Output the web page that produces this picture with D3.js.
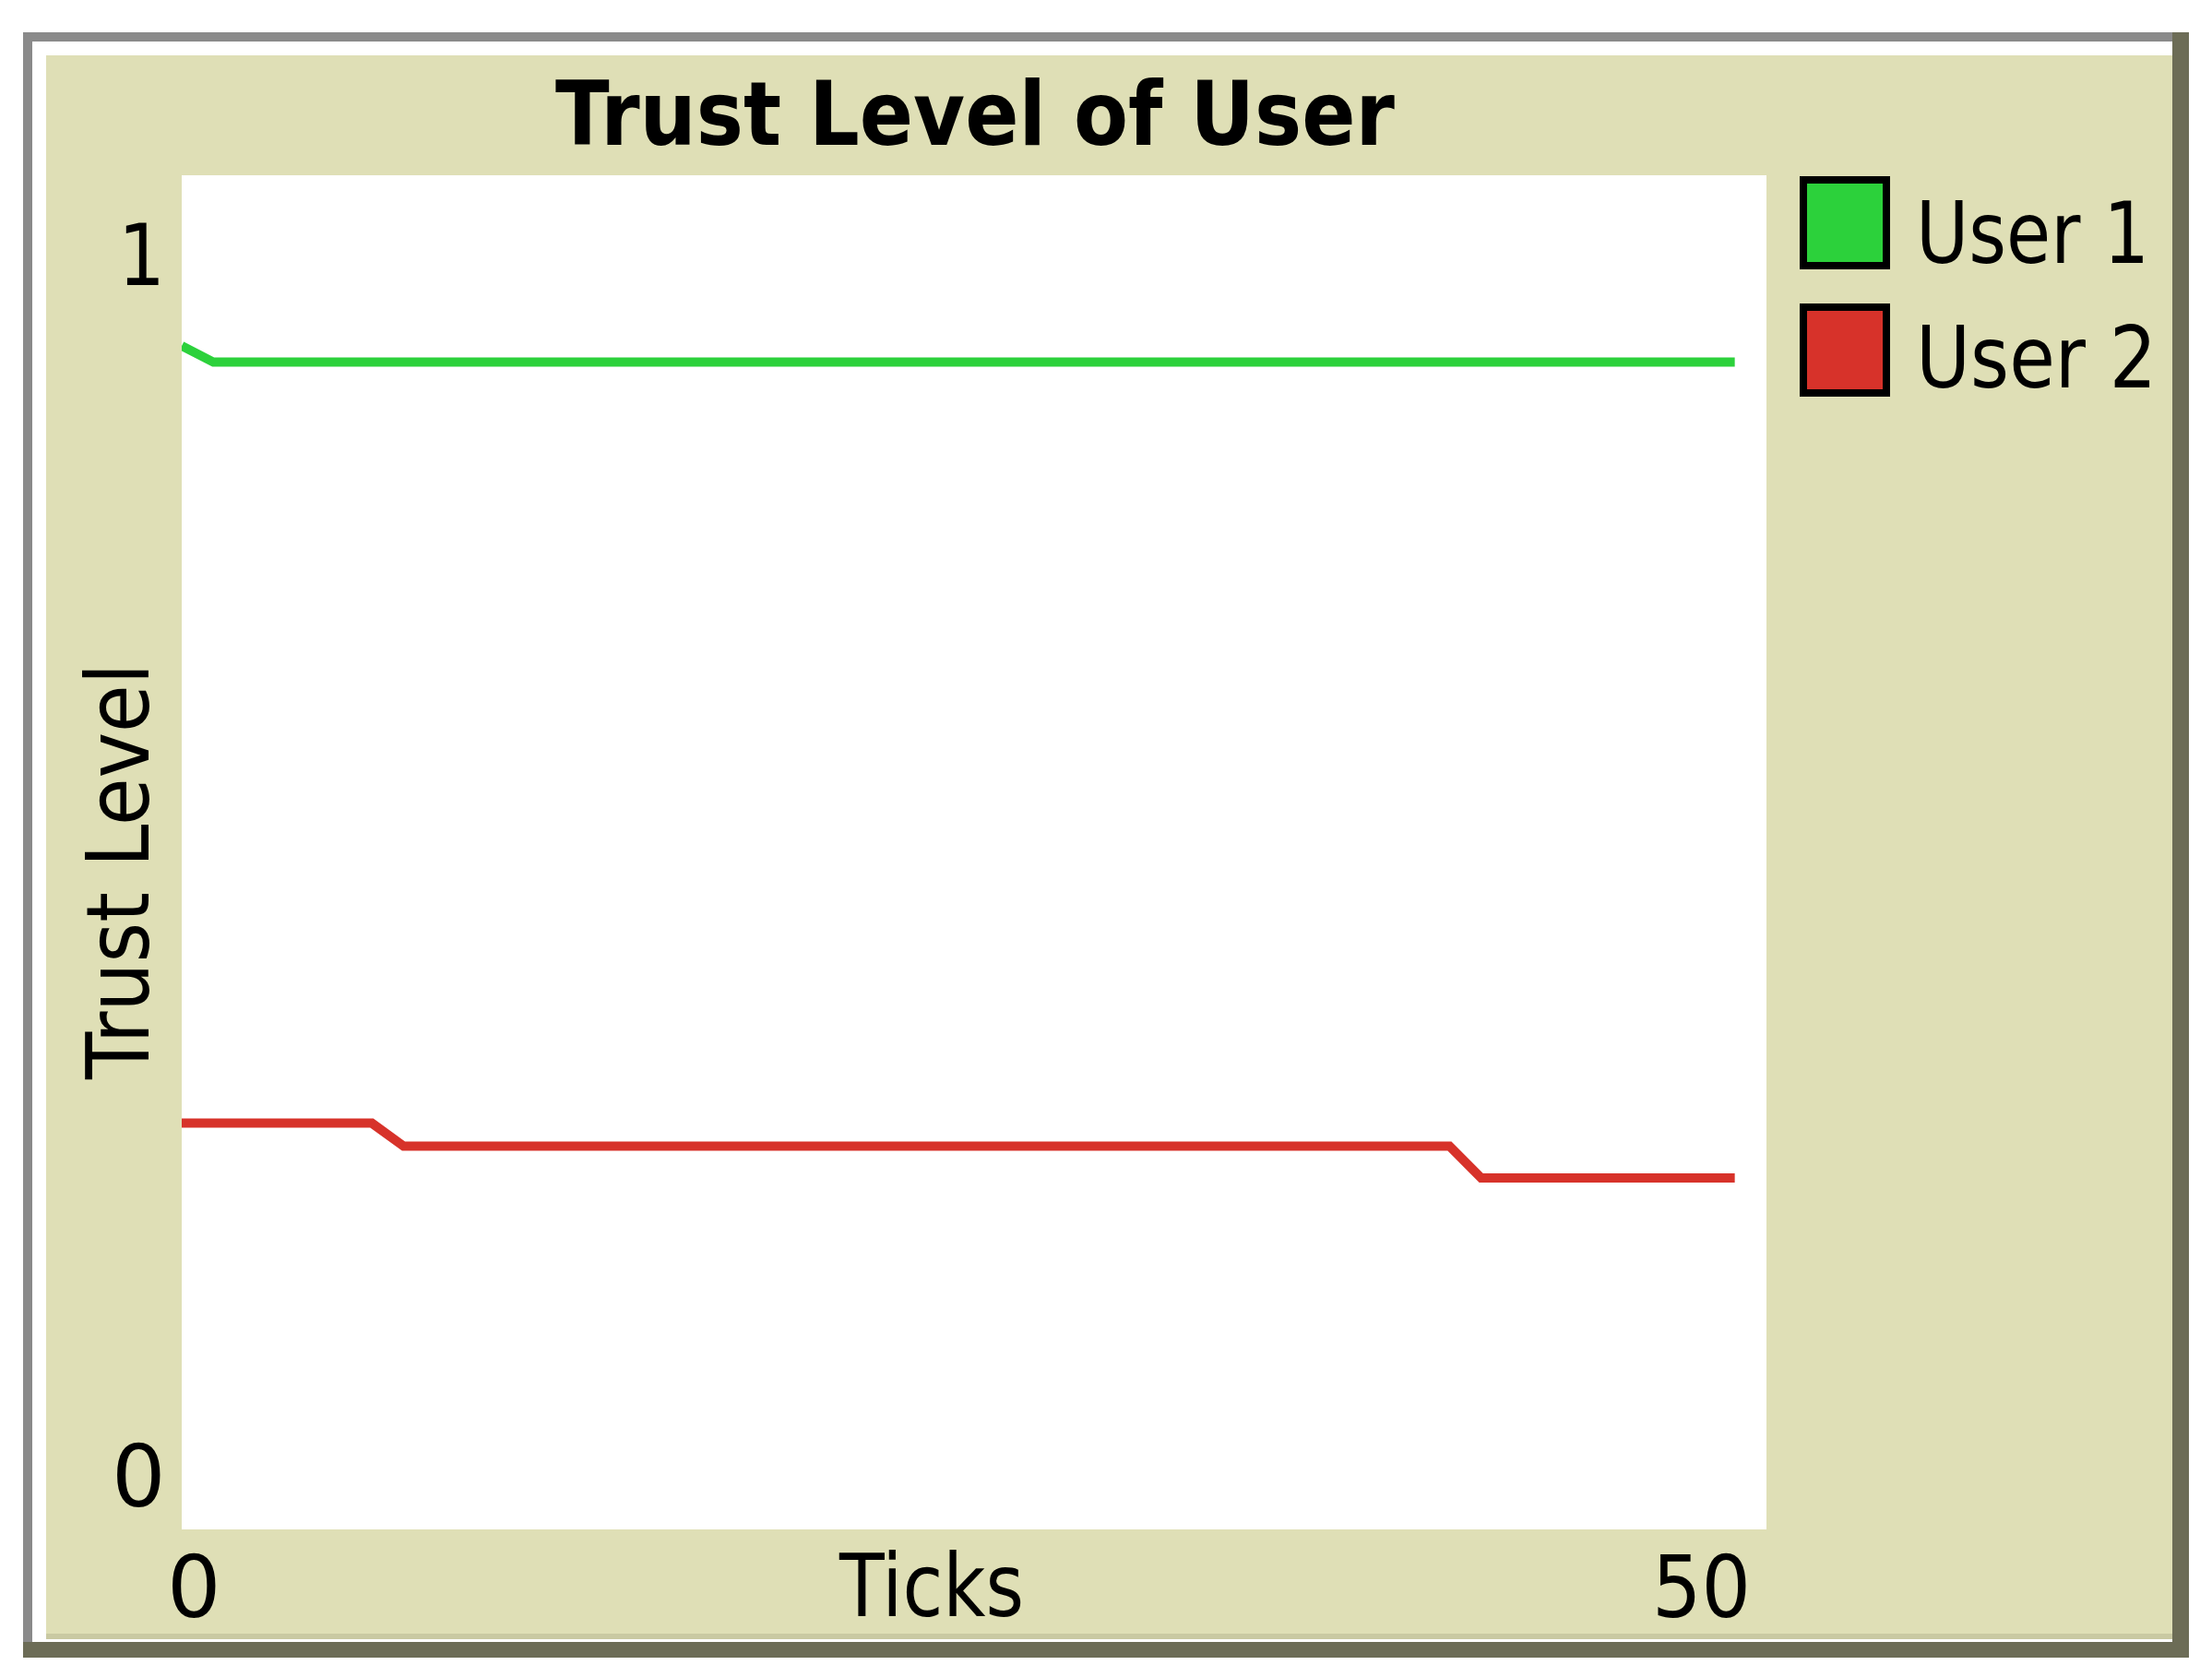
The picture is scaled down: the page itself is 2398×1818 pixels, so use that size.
<!DOCTYPE html>
<html>
<head>
<meta charset="utf-8">
<script src="https://cdn.jsdelivr.net/npm/d3@7"></script>
<style>
  html, body { margin: 0; padding: 0; background: #ffffff; }
  svg { display: block; }
  text { font-family: "DejaVu Sans", Tahoma, Verdana, sans-serif; fill: #000; }
</style>
</head>
<body>
<script>
// ---------- data ----------
const chartTitle = "Trust Level of User";
const xAxisTitle = "Ticks";
const yAxisTitle = "Trust Level";
const xDomain = [0, 50];
const yDomain = [0, 1];
const xTickLabels = ["0", "50"];
const yTickLabels = ["0", "1"];
const seriesNames = ["User 1", "User 2"];
const seriesColors = ["#2cd13b", "#d7322a"];
const ticks = [0,1,2,3,4,5,6,7,8,9,10,11,12,13,14,15,16,17,18,19,20,21,22,23,24,25,26,27,28,29,30,31,32,33,34,35,36,37,38,39,40,41,42,43,44,45,46,47,48,49];
const user1 = [0.874,0.862,0.862,0.862,0.862,0.862,0.862,0.862,0.862,0.862,
               0.862,0.862,0.862,0.862,0.862,0.862,0.862,0.862,0.862,0.862,
               0.862,0.862,0.862,0.862,0.862,0.862,0.862,0.862,0.862,0.862,
               0.862,0.862,0.862,0.862,0.862,0.862,0.862,0.862,0.862,0.862,
               0.862,0.862,0.862,0.862,0.862,0.862,0.862,0.862,0.862,0.862];
const user2 = [0.300,0.300,0.300,0.300,0.300,0.300,0.300,0.283,0.283,0.283,
               0.283,0.283,0.283,0.283,0.283,0.283,0.283,0.283,0.283,0.283,
               0.283,0.283,0.283,0.283,0.283,0.283,0.283,0.283,0.283,0.283,
               0.283,0.283,0.283,0.283,0.283,0.283,0.283,0.283,0.283,0.283,
               0.283,0.2595,0.2595,0.2595,0.2595,0.2595,0.2595,0.2595,0.2595,0.2595];

// ---------- layout ----------
const W = 2398, H = 1818;
const plot = { left: 197, top: 190, right: 1915, bottom: 1658 };
const beige = "#dfdfb6";

const svg = d3.select("body").append("svg")
  .attr("width", W).attr("height", H);

// frame (bevel)
svg.append("rect").attr("x", 25).attr("y", 35).attr("width", 2348).attr("height", 1762).attr("fill", "#6c6c56");
svg.append("rect").attr("x", 25).attr("y", 35).attr("width", 2330).attr("height", 1745).attr("fill", "#8a8a8a");
svg.append("rect").attr("x", 35).attr("y", 45).attr("width", 2320).attr("height", 1735).attr("fill", "#ffffff");
svg.append("rect").attr("x", 50).attr("y", 60).attr("width", 2305).attr("height", 1717).attr("fill", beige);
svg.append("rect").attr("x", 50).attr("y", 1771).attr("width", 2305).attr("height", 6).attr("fill", "#c9c9a2");

// plot area
svg.append("rect")
  .attr("x", plot.left).attr("y", plot.top)
  .attr("width", plot.right - plot.left).attr("height", plot.bottom - plot.top)
  .attr("fill", "#ffffff");

const x = d3.scaleLinear().domain(xDomain).range([plot.left, plot.right]);
const y = d3.scaleLinear().domain(yDomain).range([plot.bottom, plot.top]);

svg.append("clipPath").attr("id", "clip")
  .append("rect").attr("x", plot.left).attr("y", plot.top)
  .attr("width", plot.right - plot.left).attr("height", plot.bottom - plot.top);

const line = d3.line().x(d => x(d[0])).y(d => y(d[1]));
const seriesData = [user1, user2];
const g = svg.append("g").attr("clip-path", "url(#clip)");
seriesData.forEach((vals, i) => {
  g.append("path")
    .datum(ticks.map((t, j) => [t, vals[j]]))
    .attr("d", line)
    .attr("fill", "none")
    .attr("stroke", seriesColors[i])
    .attr("stroke-width", 10)
    .attr("stroke-linejoin", "miter");
});

// title
svg.append("text")
  .attr("x", 602).attr("y", 157)
  .attr("font-size", 96).attr("font-weight", "bold")
  .attr("textLength", 910).attr("lengthAdjust", "spacingAndGlyphs")
  .text(chartTitle);

// y tick labels
svg.append("text").attr("x", 128).attr("y", y(yDomain[1]) + 119)
  .attr("font-size", 92).attr("textLength", 51).attr("lengthAdjust", "spacingAndGlyphs")
  .text(yTickLabels[1]);
svg.append("text").attr("x", 121).attr("y", y(yDomain[0]) - 25)
  .attr("font-size", 92)
  .text(yTickLabels[0]);

// x tick labels
svg.append("text").attr("x", x(xDomain[0]) - 16).attr("y", 1753)
  .attr("font-size", 92)
  .text(xTickLabels[0]);
svg.append("text").attr("x", x(xDomain[1]) - 124).attr("y", 1753)
  .attr("font-size", 92).attr("textLength", 107).attr("lengthAdjust", "spacingAndGlyphs")
  .text(xTickLabels[1]);

// axis titles
svg.append("text").attr("x", 910).attr("y", 1752)
  .attr("font-size", 95).attr("textLength", 200).attr("lengthAdjust", "spacingAndGlyphs")
  .text(xAxisTitle);
svg.append("text")
  .attr("transform", "translate(161,1170) rotate(-90)")
  .attr("font-size", 95).attr("textLength", 451).attr("lengthAdjust", "spacingAndGlyphs")
  .text(yAxisTitle);

// legend
const legendY = [191, 329];
const legendBaseline = [285, 420];
const legendLen = [253, 261];
seriesNames.forEach((name, i) => {
  svg.append("rect")
    .attr("x", 1955).attr("y", legendY[i] + 4)
    .attr("width", 90).attr("height", 93)
    .attr("fill", seriesColors[i])
    .attr("stroke", "#000").attr("stroke-width", 8);
  svg.append("text")
    .attr("x", 2077).attr("y", legendBaseline[i])
    .attr("font-size", 93).attr("textLength", legendLen[i]).attr("lengthAdjust", "spacingAndGlyphs")
    .text(name);
});
</script>
</body>
</html>
